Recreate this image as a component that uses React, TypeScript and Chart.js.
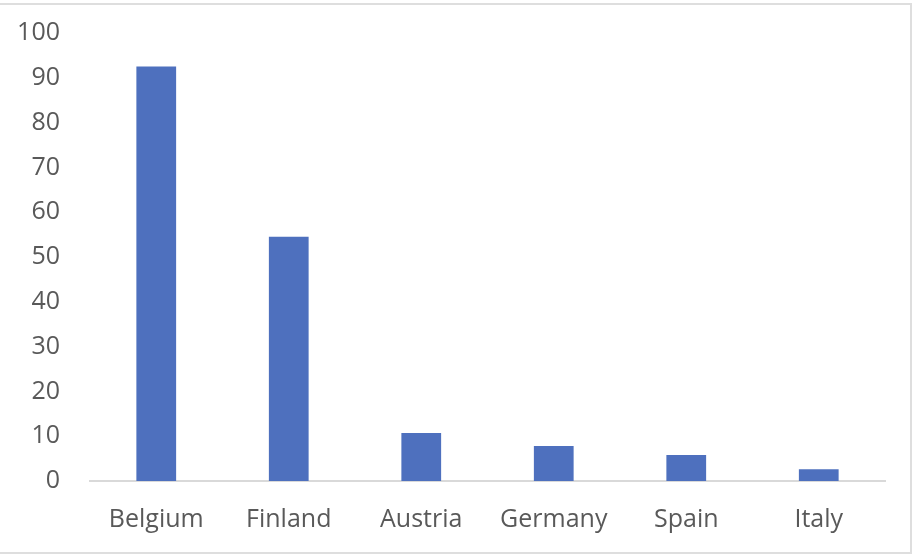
import React, { useEffect, useRef } from "react";
import { Chart, registerables } from "chart.js";

Chart.register(...registerables);

const categories = ["Belgium", "Finland", "Austria", "Germany", "Spain", "Italy"];
const values = [92.5, 54.5, 10.7, 7.8, 5.8, 2.6];
const yMin = 0;
const yMax = 100;
const yStep = 10;

export default function App() {
  const ref = useRef<HTMLCanvasElement | null>(null);

  useEffect(() => {
    document.body.style.margin = "0";
    const ctx = ref.current!.getContext("2d")!;
    const font = { family: "'Open Sans', sans-serif", size: 25 };
    const chart = new Chart(ctx, {
      type: "bar",
      data: {
        labels: categories,
        datasets: [
          {
            data: values,
            backgroundColor: "#4E70BE",
            borderWidth: 0,
            barPercentage: 0.3,
            categoryPercentage: 1,
          },
        ],
      },
      options: {
        animation: false,
        responsive: false,
        maintainAspectRatio: false,
        layout: { padding: { top: 33, right: 29, left: 0, bottom: 0 } },
        plugins: { legend: { display: false }, tooltip: { enabled: false } },
        scales: {
          x: {
            grid: { display: false, drawTicks: false },
            border: { display: true, color: "#d9d9d9", width: 2 },
            ticks: { color: "#595959", font, padding: 24, maxRotation: 0 },
            afterFit: (s: any) => {
              s.height = 73;
              s.paddingLeft = 0;
              s.paddingRight = 0;
            },
          },
          y: {
            min: yMin,
            max: yMax,
            grid: { display: false, drawTicks: false },
            border: { display: false },
            ticks: { stepSize: yStep, color: "#595959", font, padding: 30 },
            afterFit: (s: any) => {
              s.width = 90;
              s.paddingTop = 0;
              s.paddingBottom = 0;
            },
          },
        },
      },
    });
    return () => chart.destroy();
  }, []);

  return (
    <div style={{ position: "relative", width: 914, height: 554, background: "#fff" }}>
      <div
        style={{
          position: "absolute",
          left: -4,
          top: 3,
          width: 916,
          height: 551,
          boxSizing: "border-box",
          border: "2px solid #dedede",
        }}
      />
      <canvas ref={ref} width={914} height={554} style={{ position: "absolute", left: 0, top: 0 }} />
    </div>
  );
}
